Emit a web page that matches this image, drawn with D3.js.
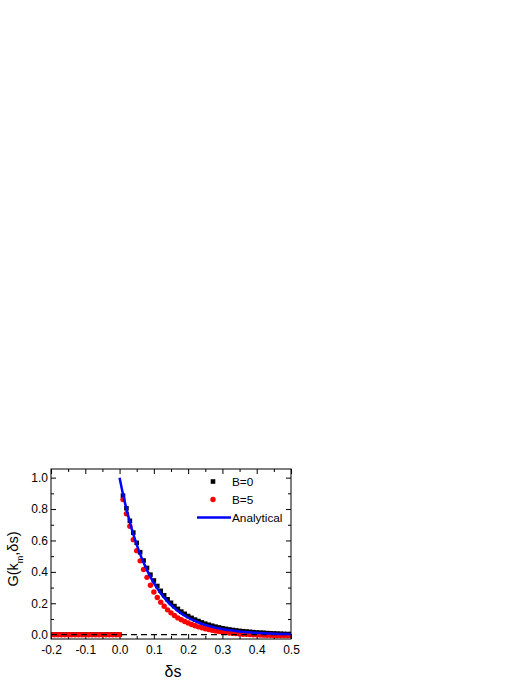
<!DOCTYPE html>
<html>
<head>
<meta charset="utf-8">
<script src="https://cdn.jsdelivr.net/npm/d3@7"></script>
<style>
  html, body { margin: 0; padding: 0; background: #fff; }
  svg { display: block; }
  text { font-family: "Liberation Sans", Arial, sans-serif; fill: #000; }
</style>
</head>
<body>
<svg id="chart" width="527" height="682"></svg>
<script>
// ---- data ----
const negS = [-0.20,-0.19,-0.18,-0.17,-0.16,-0.15,-0.14,-0.13,-0.12,-0.11,-0.10,-0.09,-0.08,-0.07,-0.06,-0.05,-0.04,-0.03,-0.02,-0.01,0.00];
const negB0 = [0,0,0,0,0,0,0,0,0,0,0,0,0,0,0,0,0,0,0,0,0];
const negB5 = [0,0,0,0,0,0,0,0,0,0,0,0,0,0,0,0,0,0,0,0,0];

const posS = [0.01,0.02,0.03,0.04,0.05,0.06,0.07,0.08,0.09,0.10,
              0.11,0.12,0.13,0.14,0.15,0.16,0.17,0.18,0.19,0.20,
              0.21,0.22,0.23,0.24,0.25,0.26,0.27,0.28,0.29,0.30,
              0.31,0.32,0.33,0.34,0.35,0.36,0.37,0.38,0.39,0.40,
              0.41,0.42,0.43,0.44,0.45,0.46,0.47,0.48,0.49,0.50];
const posB0 = [0.885,0.805,0.725,0.650,0.585,0.525,0.472,0.425,0.382,0.345,
               0.310,0.279,0.251,0.225,0.203,0.182,0.164,0.147,0.133,0.119,
               0.107,0.096,0.087,0.078,0.070,0.063,0.057,0.051,0.046,0.041,
               0.037,0.033,0.030,0.027,0.024,0.022,0.020,0.018,0.016,0.014,
               0.013,0.012,0.010,0.009,0.008,0.007,0.006,0.005,0.004,0.004];
const posB5 = [0.860,0.770,0.690,0.605,0.535,0.470,0.415,0.365,0.315,0.272,
               0.237,0.207,0.181,0.158,0.139,0.122,0.107,0.095,0.084,0.074,
               0.065,0.057,0.050,0.044,0.038,0.033,0.028,0.024,0.020,0.017,
               0.014,0.011,0.009,0.007,0.005,0.003,0.002,0.001,0.000,-0.001,
               -0.002,-0.003,-0.004,-0.004,-0.005,-0.005,-0.005,-0.006,-0.006,-0.006];

const anaS = [0.00,0.01,0.02,0.03,0.04,0.05,0.06,0.07,0.08,0.09,0.10,
              0.11,0.12,0.13,0.14,0.15,0.16,0.17,0.18,0.19,0.20,
              0.21,0.22,0.23,0.24,0.25,0.26,0.27,0.28,0.29,0.30,
              0.31,0.32,0.33,0.34,0.35,0.36,0.37,0.38,0.39,0.40,
              0.41,0.42,0.43,0.44,0.45,0.46,0.47,0.48,0.49,0.50];
const anaG = [1.000,0.895,0.801,0.717,0.641,0.574,0.513,0.459,0.411,0.368,0.329,
              0.295,0.264,0.236,0.211,0.189,0.169,0.151,0.135,0.121,0.108,
              0.097,0.087,0.078,0.069,0.062,0.056,0.050,0.044,0.040,0.036,
              0.032,0.029,0.026,0.023,0.020,0.018,0.016,0.015,0.013,0.012,
              0.010,0.009,0.008,0.007,0.006,0.005,0.005,0.004,0.004,0.003];

const xTicks = [-0.2,-0.1,0.0,0.1,0.2,0.3,0.4,0.5];
const xMinor = [-0.15,-0.05,0.05,0.15,0.25,0.35,0.45];
const yTicks = [0.0,0.2,0.4,0.6,0.8,1.0];
const yMinor = [0.1,0.3,0.5,0.7,0.9];

const legendItems = ["B=0","B=5","Analytical"];

// ---- layout ----
const L = 51, R = 291, T = 469, B = 639;
const svg = d3.select("#chart");

const x = d3.scaleLinear().domain([-0.2, 0.5]).range([L, R]);
const y = d3.scaleLinear().domain([-0.0275, 1.055]).range([B, T]);

const fmt = v => d3.format(".1f")(v).replace("\u2212", "-");
const tickFont = "12px";

// axes
const gAx = svg.append("g");
function styleAxis(g) {
  g.select(".domain").remove();
  g.selectAll("line").attr("stroke", "#000").attr("stroke-width", 1);
  g.selectAll("text").style("font-size", tickFont).attr("fill", "#000");
}
gAx.append("g").attr("transform", `translate(0,${B})`)
  .call(d3.axisBottom(x).tickValues(xTicks).tickSize(-5).tickPadding(6).tickFormat(fmt)).call(styleAxis);
gAx.append("g").attr("transform", `translate(0,${B})`)
  .call(d3.axisBottom(x).tickValues(xMinor).tickSize(-3).tickFormat("")).call(styleAxis);
gAx.append("g").attr("transform", `translate(0,${T})`)
  .call(d3.axisTop(x).tickValues(xTicks).tickSize(-5).tickFormat("")).call(styleAxis);
gAx.append("g").attr("transform", `translate(0,${T})`)
  .call(d3.axisTop(x).tickValues(xMinor).tickSize(-3).tickFormat("")).call(styleAxis);
gAx.append("g").attr("transform", `translate(${L},0)`)
  .call(d3.axisLeft(y).tickValues(yTicks).tickSize(-5).tickPadding(3).tickFormat(fmt)).call(styleAxis);
gAx.append("g").attr("transform", `translate(${L},0)`)
  .call(d3.axisLeft(y).tickValues(yMinor).tickSize(-3).tickFormat("")).call(styleAxis);
gAx.append("g").attr("transform", `translate(${R},0)`)
  .call(d3.axisRight(y).tickValues(yTicks).tickSize(-5).tickFormat("")).call(styleAxis);
gAx.append("g").attr("transform", `translate(${R},0)`)
  .call(d3.axisRight(y).tickValues(yMinor).tickSize(-3).tickFormat("")).call(styleAxis);

// clip
svg.append("clipPath").attr("id", "clip").append("rect")
  .attr("x", L).attr("y", T).attr("width", R - L).attr("height", B - T);
const plot = svg.append("g").attr("clip-path", "url(#clip)");

// black squares B=0, red circles B=5
const b0 = negS.map((s, i) => [s, negB0[i]]).concat(posS.map((s, i) => [s, posB0[i]]));
const b5 = negS.map((s, i) => [s, negB5[i]]).concat(posS.map((s, i) => [s, posB5[i]]));
const sq = 4.6, cr = 2.7;
plot.append("g").selectAll("rect").data(b0).join("rect")
  .attr("x", d => x(d[0]) - sq / 2).attr("y", d => y(d[1]) - sq / 2)
  .attr("width", sq).attr("height", sq).attr("fill", "#000");
plot.append("g").selectAll("circle").data(b5).join("circle")
  .attr("cx", d => x(d[0])).attr("cy", d => y(d[1])).attr("r", cr).attr("fill", "#ff0000");

// dashed zero line
plot.append("line").attr("x1", L).attr("x2", R).attr("y1", y(0)).attr("y2", y(0))
  .attr("stroke", "#000").attr("stroke-width", 1.3).attr("stroke-dasharray", "6,4");

// analytical line
const ana = anaS.map((s, i) => [s, anaG[i]]);
plot.append("path").datum(ana)
  .attr("d", d3.line().x(d => x(d[0])).y(d => y(d[1])).curve(d3.curveMonotoneX))
  .attr("fill", "none").attr("stroke", "#0000ff").attr("stroke-width", 2.5);

// frame
svg.append("rect").attr("x", L).attr("y", T).attr("width", R - L).attr("height", B - T)
  .attr("fill", "none").attr("stroke", "#000").attr("stroke-width", 1);

// legend
const lg = svg.append("g");
const rows = [481.5, 499.5, 517.5];
lg.append("rect").attr("x", 213 - sq / 2).attr("y", rows[0] - sq / 2).attr("width", sq).attr("height", sq).attr("fill", "#000");
lg.append("circle").attr("cx", 213).attr("cy", rows[1]).attr("r", cr).attr("fill", "#ff0000");
lg.append("line").attr("x1", 197).attr("x2", 231).attr("y1", rows[2]).attr("y2", rows[2])
  .attr("stroke", "#0000ff").attr("stroke-width", 2.5);
lg.selectAll("text").data(legendItems).join("text")
  .attr("x", 232)
  .attr("y", (d, i) => rows[i] + 4)
  .style("font-size", "11.8px")
  .text(d => d);

// axis titles
svg.append("text").attr("x", (L + R) / 2 + 2).attr("y", 677)
  .attr("text-anchor", "middle").style("font-size", "16px").text("δs");

const yl = svg.append("text")
  .attr("transform", `translate(18,${(T + B) / 2 + 5}) rotate(-90)`)
  .attr("text-anchor", "middle").style("font-size", "14.5px");
yl.append("tspan").text("G(k");
yl.append("tspan").attr("baseline-shift", "sub").style("font-size", "9px").text("m");
yl.append("tspan").text(",δs)");
</script>
</body>
</html>
